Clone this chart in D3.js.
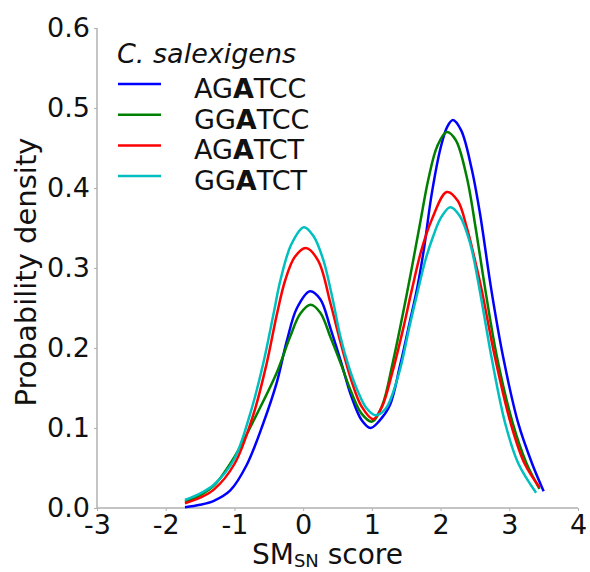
<!DOCTYPE html>
<html><head><meta charset="utf-8">
<script src="https://cdn.jsdelivr.net/npm/d3@7"></script>
<style>body{margin:0;background:#fff}text{font-family:"DejaVu Sans",sans-serif;fill:#111}</style>
</head><body>
<svg id="c" width="590" height="572"></svg>
<script>
// ---- data ----
const legendTitle = "C. salexigens";
const seriesNames = ["AGATCC", "GGATCC", "AGATCT", "GGATCT"];
const seriesColors = ["#0000ff", "#008000", "#ff0000", "#00bfbf"];
const xTicks = [-3, -2, -1, 0, 1, 2, 3, 4];
const yTicks = [0.0, 0.1, 0.2, 0.3, 0.4, 0.5, 0.6];

const xAGATCC = [-1.72,-1.5,-1.3,-1.06,-0.82,-0.58,-0.38,-0.24,-0.09,0.10,0.25,0.40,0.55,0.70,0.85,0.98,1.10,1.26,1.41,1.55,1.66,1.76,1.87,2.00,2.10,2.18,2.30,2.45,2.57,2.74,2.91,3.13,3.33,3.50];
const yAGATCC = [0.001,0.004,0.009,0.022,0.054,0.106,0.158,0.208,0.250,0.271,0.261,0.224,0.183,0.140,0.110,0.100,0.108,0.128,0.178,0.232,0.275,0.325,0.392,0.450,0.477,0.485,0.472,0.425,0.370,0.272,0.189,0.106,0.056,0.021];

const xGGATCC = [-1.72,-1.5,-1.3,-1.0,-0.67,-0.38,-0.19,-0.04,0.11,0.25,0.40,0.55,0.70,0.85,1.00,1.15,1.30,1.51,1.70,1.82,1.95,2.09,2.22,2.38,2.52,2.66,2.82,3.05,3.25,3.44];
const yGGATCC = [0.008,0.016,0.028,0.064,0.118,0.170,0.214,0.243,0.254,0.244,0.213,0.180,0.145,0.118,0.108,0.128,0.180,0.268,0.355,0.410,0.452,0.470,0.460,0.414,0.345,0.268,0.189,0.106,0.056,0.024];

const xAGATCT = [-1.72,-1.5,-1.3,-1.0,-0.72,-0.53,-0.38,-0.26,-0.12,0.04,0.22,0.40,0.55,0.70,0.85,1.02,1.15,1.30,1.45,1.58,1.72,1.87,2.09,2.25,2.38,2.50,2.60,2.79,3.02,3.22,3.44];
const yAGATCT = [0.006,0.013,0.023,0.055,0.118,0.181,0.243,0.285,0.314,0.325,0.309,0.255,0.205,0.160,0.127,0.111,0.127,0.170,0.222,0.272,0.322,0.360,0.395,0.384,0.351,0.310,0.272,0.189,0.106,0.056,0.026];

const xGGATCT = [-1.72,-1.5,-1.3,-1.01,-0.77,-0.58,-0.43,-0.33,-0.17,0.01,0.15,0.29,0.42,0.54,0.67,0.80,0.92,1.05,1.20,1.40,1.55,1.66,1.78,1.89,2.00,2.14,2.28,2.43,2.57,2.74,2.94,3.13,3.39];
const yGGATCT = [0.010,0.018,0.029,0.060,0.118,0.181,0.243,0.285,0.330,0.351,0.340,0.311,0.265,0.215,0.175,0.145,0.125,0.116,0.124,0.170,0.228,0.268,0.310,0.339,0.362,0.376,0.365,0.331,0.272,0.189,0.106,0.056,0.019];

const seriesX = [xAGATCC, xGGATCC, xAGATCT, xGGATCT];
const seriesY = [yAGATCC, yGGATCC, yAGATCT, yGGATCT];

// ---- layout ----
const W = 590, H = 572;
const m = {left: 97, top: 28, right: 12, bottom: 64};
const svg = d3.select("#c");
const x = d3.scaleLinear().domain([-3, 4]).range([m.left, W - m.right]);
const y = d3.scaleLinear().domain([0, 0.6]).range([H - m.bottom, m.top]);
const spine = "#b0b0b0";

const xAxis = svg.append("g").attr("transform", `translate(0,${H - m.bottom})`)
  .call(d3.axisBottom(x).tickValues(xTicks).tickSize(3).tickPadding(4).tickFormat(d => String(d)));
const yAxis = svg.append("g").attr("transform", `translate(${m.left},0)`)
  .call(d3.axisLeft(y).tickValues(yTicks).tickSize(3).tickPadding(4).tickFormat(d3.format(".1f")));
[xAxis, yAxis].forEach(g => {
  g.select(".domain").attr("stroke", spine).attr("stroke-width", 1.5);
  g.selectAll(".tick line").attr("stroke", spine).attr("stroke-width", 1);
  g.selectAll(".tick text").attr("font-size", 27).attr("fill", "#111")
    .attr("font-family", "DejaVu Sans, sans-serif");
});
xAxis.select(".domain").attr("d", `M${m.left},0H${W - m.right}`);
yAxis.select(".domain").attr("d", `M0,${H - m.bottom}V${m.top}`);

// ---- curves ----
const line = d3.line().x(d => x(d[0])).y(d => y(d[1])).curve(d3.curveCatmullRom.alpha(0.5));
seriesNames.forEach((name, i) => {
  const pts = seriesX[i].map((v, j) => [v, seriesY[i][j]]);
  svg.append("path").datum(pts).attr("d", line)
    .attr("fill", "none").attr("stroke", seriesColors[i]).attr("stroke-width", 2.5);
});

// ---- legend ----
const leg = svg.append("g");
leg.append("text").attr("x", 117).attr("y", 63).attr("font-size", 27)
  .attr("font-style", "italic").text(legendTitle);
seriesNames.forEach((name, i) => {
  const ly = 84 + i * 30.7;
  leg.append("line").attr("x1", 118).attr("x2", 161).attr("y1", ly).attr("y2", ly)
    .attr("stroke", seriesColors[i]).attr("stroke-width", 2.5);
  const t = leg.append("text").attr("x", 194).attr("y", ly + 14).attr("font-size", 27);
  t.append("tspan").text(name.slice(0, 2));
  t.append("tspan").attr("font-weight", "bold").text(name.slice(2, 3));
  t.append("tspan").text(name.slice(3));
});

// ---- axis labels ----
const xl = svg.append("text").attr("x", 252).attr("y", 564).attr("font-size", 28);
xl.append("tspan").text("SM");
xl.append("tspan").attr("font-size", 18).attr("dy", 3).text("SN");
xl.append("tspan").attr("dy", -3).text(" score");
svg.append("text").attr("transform", "translate(36,272) rotate(-90)")
  .attr("text-anchor", "middle").attr("font-size", 29).text("Probability density");
</script>
</body></html>
